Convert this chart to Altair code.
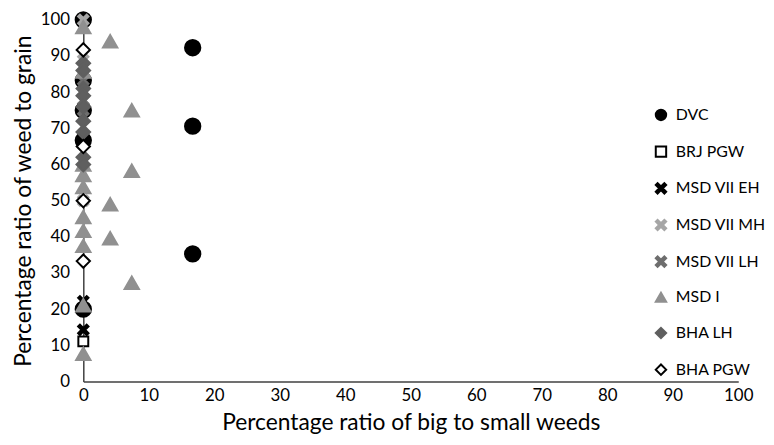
import altair as alt
import pandas as pd

series_names = ["DVC", "BRJ PGW", "MSD VII EH", "MSD VII MH", "MSD VII LH",
                "MSD I", "BHA LH", "BHA PGW"]

dvc_x = [0, 0, 0, 0, 0, 16.7, 16.7, 16.7]
dvc_y = [100, 83.3, 66.7, 75, 20, 92.3, 70.6, 35.3]

brj_x = [0]
brj_y = [11.1]

eh_x = [0, 0]
eh_y = [22.2, 14.3]

mh_x = [0, 0, 0]
mh_y = [100, 88.9, 50]

lh_x = [0, 0, 0]
lh_y = [83.3, 77.8, 75]

msdi_x = [0, 0, 0, 0, 0, 0, 0, 0, 0, 0, 4.1, 7.4, 7.4, 4.1, 4.1, 7.4]
msdi_y = [7.7, 21.1, 37.5, 41.7, 45.5, 53.8, 57.1, 60, 85.7, 98,
          94.1, 75, 58.3, 49, 39.6, 27.3]

bhalh_x = [0, 0, 0, 0, 0, 0, 0, 0, 0]
bhalh_y = [88, 86, 81, 79, 76, 72, 69, 62, 60]

bhapgw_x = [0, 0, 0, 0]
bhapgw_y = [91.7, 65, 50, 33.3]

xs = [dvc_x, brj_x, eh_x, mh_x, lh_x, msdi_x, bhalh_x, bhapgw_x]
ys = [dvc_y, brj_y, eh_y, mh_y, lh_y, msdi_y, bhalh_y, bhapgw_y]

X_SHAPE = ("M-1,-0.65L-0.65,-1L0,-0.35L0.65,-1L1,-0.65L0.35,0L1,0.65L0.65,1L0,0.35"
           "L-0.65,1L-1,0.65L-0.35,0Z")

shapes = ["circle", "square", X_SHAPE, X_SHAPE, X_SHAPE,
          "triangle-up", "diamond", "diamond"]
fills = ["#000000", "#ffffff", "#000000", "#a6a6a6", "#6e6e6e",
         "#909090", "#5f5f5f", "#ffffff"]
strokes = ["#000000", "#000000", "#000000", "#a6a6a6", "#6e6e6e",
           "#909090", "#5f5f5f", "#000000"]
sizes = [240, 100, 110, 110, 110, 210, 190, 180]

rows = []
for i, (name, xv, yv) in enumerate(zip(series_names, xs, ys)):
    for a, b in zip(xv, yv):
        rows.append({"series": name, "order": i, "x": a, "y": b, "sz": sizes[i]})
df = pd.DataFrame(rows)

FONT = "Lato"

chart = alt.Chart(df).mark_point(filled=True, strokeWidth=2, opacity=1).encode(
    x=alt.X("x:Q", scale=alt.Scale(domain=[0, 100], nice=False),
            axis=alt.Axis(title="Percentage ratio of big to small weeds",
                          values=list(range(0, 101, 10)), grid=False, ticks=False,
                          labelFlush=False, labelPadding=6, titlePadding=8)),
    y=alt.Y("y:Q", scale=alt.Scale(domain=[0, 100], nice=False),
            axis=alt.Axis(title="Percentage ratio of weed to grain",
                          values=list(range(0, 101, 10)), grid=False, ticks=False,
                          labelFlush=False, labelPadding=14, titlePadding=5)),
    shape=alt.Shape("series:N", scale=alt.Scale(domain=series_names, range=shapes),
                    legend=alt.Legend(title=None)),
    fill=alt.Fill("series:N", scale=alt.Scale(domain=series_names, range=fills),
                  legend=alt.Legend(title=None)),
    stroke=alt.Stroke("series:N", scale=alt.Scale(domain=series_names, range=strokes),
                      legend=alt.Legend(title=None)),
    size=alt.Size("sz:Q", scale=None, legend=None),
    order=alt.Order("order:Q"),
).properties(
    width=661, height=365,
    autosize=alt.AutoSizeParams(type="none"),
    padding={"left": 76, "top": 10, "right": 28, "bottom": 54},
).configure_view(stroke=None).configure_axis(
    labelFont=FONT, titleFont=FONT, labelFontSize=17, titleFontSize=23,
    labelColor="#000000", titleColor="#000000", titleFontWeight="normal",
    domainColor="#404040", domainWidth=1.5,
).configure_legend(
    orient="none", legendX=575, legendY=88, labelFont=FONT, labelFontSize=16,
    labelColor="#000000", symbolSize=110, symbolStrokeWidth=2, rowPadding=17,
    labelOffset=7,
)

chart.save("out.html", embed_options={"renderer": "svg", "actions": False})
